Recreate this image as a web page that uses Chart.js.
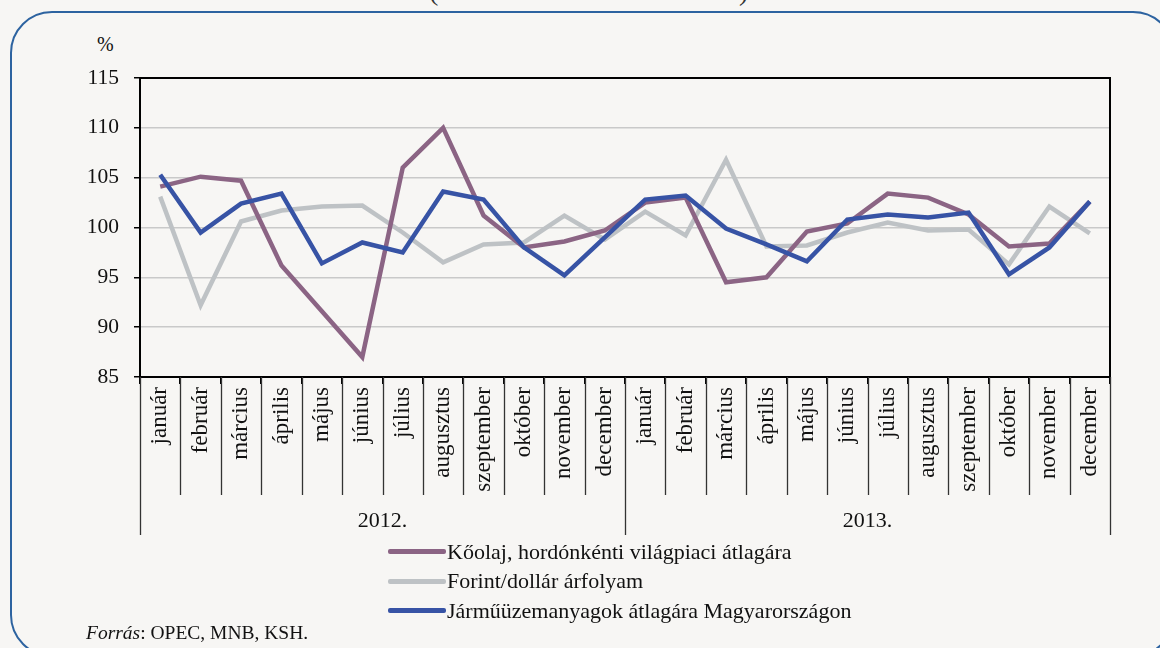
<!DOCTYPE html>
<html>
<head>
<meta charset="utf-8">
<script src="https://cdn.jsdelivr.net/npm/chart.js@4"></script>
<style>
  body { margin: 0; background: #f7f6f4; width: 1160px; height: 648px; overflow: hidden; position: relative; font-family: "Liberation Serif", serif; color: #111; }
  #frame { position: absolute; left: 10px; top: 11px; width: 1165px; height: 646px; border: 2px solid #2d63a0; border-radius: 42px; box-sizing: border-box; }
  #chart { position: absolute; left: 0; top: 0; }
  .paren { position: absolute; top: -25px; font-size: 28px; color: #333; }
  #unit { position: absolute; left: 97px; top: 33px; font-size: 20px; }
  #legend { position: absolute; left: 388px; top: 537px; }
  .item { height: 29.5px; display: flex; align-items: center; font-size: 22px; }
  .swatch { width: 58px; height: 5px; border-radius: 2px; margin-right: 1px; }
  #source { position: absolute; left: 86px; top: 622px; font-size: 19.5px; }
</style>
</head>
<body>
<div id="frame"></div>
<div class="paren" style="left:429px">(</div>
<div class="paren" style="left:739px">)</div>
<div id="unit">%</div>
<canvas id="chart" width="1160" height="648"></canvas>
<div id="legend"></div>
<div id="source"><i>Forrás</i>: OPEC, MNB, KSH.</div>
<script>
const years = ["2012.", "2013."]
const months = ["január", "február", "március", "április", "május", "június", "július", "augusztus", "szeptember", "október", "november", "december"]
const yTicks = [85, 90, 95, 100, 105, 110, 115]

const seriesNames = [
  "Kőolaj, hordónkénti világpiaci átlagára",
  "Forint/dollár árfolyam",
  "Járműüzemanyagok átlagára Magyarországon",
]
const seriesColors = ["#8b6484", "#bec2c5", "#3753a5"]

const oil = [104.1, 105.1, 104.7, 96.2, 91.6, 87.0, 106.0, 110.0, 101.2, 98.0, 98.6, 99.7,
  102.5, 103.0, 94.5, 95.0, 99.6, 100.4, 103.4, 103.0, 101.3, 98.1, 98.4, 102.6]
const forint = [103.1, 92.2, 100.6, 101.7, 102.1, 102.2, 99.5, 96.5, 98.3, 98.5, 101.2, 98.8,
  101.6, 99.2, 106.8, 98.1, 98.2, 99.5, 100.5, 99.7, 99.8, 96.3, 102.1, 99.4]
const fuel = [105.3, 99.5, 102.4, 103.4, 96.4, 98.5, 97.5, 103.6, 102.8, 98.0, 95.2, 99.0,
  102.8, 103.2, 99.9, 98.3, 96.6, 100.8, 101.3, 101.0, 101.5, 95.3, 98.0, 102.6]

const labels = years.flatMap(() => months)

// legend built from the series names
const legend = document.getElementById("legend")
seriesNames.forEach((name, i) => {
  const row = document.createElement("div")
  row.className = "item"
  row.innerHTML = `<span class="swatch" style="background:${seriesColors[i]}"></span>${name}`
  legend.appendChild(row)
})

// frame, month separators and year labels under the x axis
const extras = {
  id: "extras",
  afterDraw(chart) {
    const ctx = chart.ctx
    const area = chart.chartArea
    const x = chart.scales.x
    const step = x.getPixelForValue(1) - x.getPixelForValue(0)
    const edge = (i) => x.getPixelForValue(i) - step / 2
    ctx.save()
    ctx.strokeStyle = "#000"
    ctx.lineWidth = 2
    ctx.strokeRect(area.left, area.top, area.right - area.left, area.bottom - area.top)
    ctx.strokeStyle = "#333"
    ctx.lineWidth = 1.3
    for (let i = 0; i <= labels.length; i++) {
      const px = Math.round(edge(i)) + 0.5
      const yearEdge = i % months.length === 0
      ctx.beginPath()
      ctx.moveTo(px, area.bottom)
      ctx.lineTo(px, yearEdge ? 535 : 495)
      ctx.stroke()
    }
    ctx.fillStyle = "#111"
    ctx.font = '22px "Liberation Serif"'
    ctx.textAlign = "center"
    ctx.textBaseline = "middle"
    years.forEach((y, k) => {
      const cx = (edge(k * months.length) + edge((k + 1) * months.length)) / 2
      ctx.fillText(y, cx, 521)
    })
    ctx.restore()
  },
}

const line = (data, i, order) => ({
  label: seriesNames[i],
  data: data,
  borderColor: seriesColors[i],
  backgroundColor: seriesColors[i],
  borderWidth: 4.5,
  pointRadius: 0,
  tension: 0,
  order: order,
})

new Chart(document.getElementById("chart"), {
  type: "line",
  data: {
    labels: labels,
    datasets: [line(oil, 0, 1), line(forint, 1, 2), line(fuel, 2, 0)],
  },
  plugins: [extras],
  options: {
    responsive: false,
    animation: false,
    layout: { padding: { left: 0, right: 50, top: 78, bottom: 121 } },
    plugins: { legend: { display: false }, tooltip: { enabled: false } },
    scales: {
      x: {
        offset: true,
        afterFit: (s) => { s.height = 150 },
        grid: { offset: true, drawOnChartArea: false, color: "#000", lineWidth: 2, tickLength: 7 },
        border: { color: "#000", width: 2 },
        ticks: {
          autoSkip: false,
          minRotation: 90,
          maxRotation: 90,
          padding: 3,
          color: "#111",
          font: { family: "Liberation Serif", size: 23 },
        },
      },
      y: {
        min: 85,
        max: 115,
        afterFit: (s) => { s.width = 140 },
        afterBuildTicks: (s) => { s.ticks = yTicks.map((v) => ({ value: v })) },
        grid: { color: "#c9c9c9", lineWidth: 1.5, tickColor: "#000", tickLength: 6 },
        border: { color: "#000", width: 2 },
        ticks: {
          padding: 15,
          color: "#111",
          font: { family: "Liberation Serif", size: 21.5 },
        },
      },
    },
  },
})
</script>
</body>
</html>
